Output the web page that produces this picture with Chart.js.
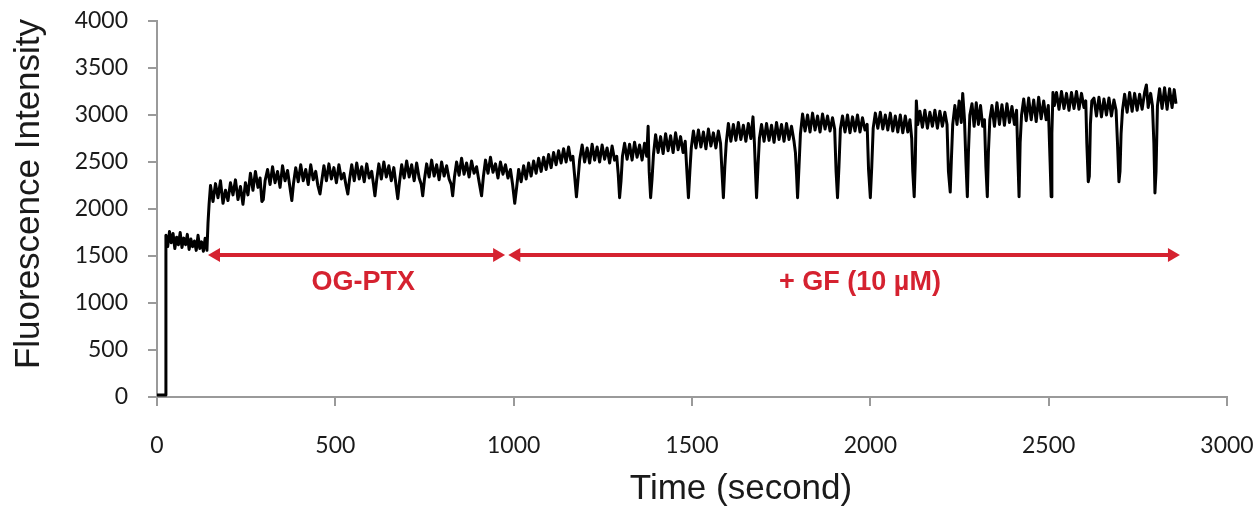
<!DOCTYPE html>
<html>
<head>
<meta charset="utf-8">
<script src="https://cdn.jsdelivr.net/npm/chart.js@4.4.1/dist/chart.umd.min.js"></script>
<style>
html,body{margin:0;padding:0;background:#fff;}
#wrap{width:1256px;height:506px;position:relative;}
</style>
</head>
<body>
<div id="wrap"><canvas id="c"></canvas></div>
<script>
// ---- data ----
const timeSec = [
0,8,16,23,
25,30,35,40,45,50,55,60,65,70,75,80,85,90,95,100,105,110,115,120,125,130,135,140,143,146,
150,157,164,171,178,185,192,199,206,213,220,227,234,241,248,
255,262,269,276,283,289,294,298,303,
310,317,324,331,338,345,352,359,366,372,378,383,389,396,403,410,417,424,431,438,445,451,457,462,
468,475,482,489,496,503,510,517,524,530,535,540,546,553,560,567,574,581,588,595,602,607,611,616,
622,629,636,643,650,657,664,670,675,680,686,693,700,707,714,721,728,735,741,745,750,
756,763,770,777,784,791,798,805,812,819,825,829,834,840,847,854,861,868,875,882,889,896,903,910,915,
921,928,935,942,949,956,963,970,977,984,991,997,1003,1008,
1014,1021,1028,1035,1042,1049,1056,1063,1070,1077,1084,1091,1098,1105,1112,1119,1126,1133,1140,1147,1154,1160,1166,1171,1176,1180,1185,
1192,1199,1206,1213,1220,1227,1234,1241,1248,1255,1262,1269,1276,1283,1289,1293,1297,1301,1305,
1311,1318,1325,1332,1339,1346,1353,1360,1367,1373,1377,1380,1384,1388,1392,
1398,1405,1412,1419,1426,1433,1440,1447,1454,1461,1468,1475,1481,1486,1490,1494,1498,
1504,1511,1518,1525,1532,1539,1546,1553,1560,1567,1574,1580,1584,1588,1592,1596,
1602,1609,1616,1623,1630,1637,1644,1651,1658,1665,1671,1675,1678,1681,1685,1689,
1695,1702,1709,1716,1723,1730,1737,1744,1751,1758,1765,1772,1779,1786,1790,1793,1796,1800,1804,
1810,1817,1824,1831,1838,1845,1852,1859,1866,1873,1880,1887,1894,1900,1904,1908,1912,1916,
1922,1929,1936,1943,1950,1957,1964,1971,1978,1985,1991,1995,2000,2004,2008,
2014,2021,2028,2035,2042,2049,2056,2063,2070,2077,2084,2091,2098,2105,2111,2116,2119,2123,2126,2129,2133,
2139,2146,2153,2160,2167,2174,2181,2188,2195,2202,2209,2215,2219,2224,2227,2231,
2237,2243,2249,2255,2259,2264,2268,2272,2275,2279,
2285,2291,2297,2303,2309,2315,2320,2324,2328,2331,2335,
2341,2348,2355,2362,2369,2376,2383,2390,2397,2404,2410,2414,2417,2420,2424,
2430,2437,2444,2451,2458,2465,2472,2479,2486,2493,2499,2504,2507,2509,2512,2516,
2522,2529,2536,2543,2550,2557,2564,2571,2578,2585,2592,2599,2604,2607,2611,2614,2617,2621,
2627,2634,2641,2648,2655,2662,2669,2676,2683,2689,2693,2697,2700,2703,2707,
2713,2720,2727,2734,2741,2748,2755,2762,2769,2774,2779,2786,2791,2795,2798,2801,2805,
2811,2818,2825,2832,2839,2846,2852,2857
];
const intensity = [
20,20,20,20,
1720,1600,1760,1640,1740,1580,1700,1620,1750,1590,1690,1620,1730,1570,1680,1600,1660,1560,1720,1580,1650,1550,1690,1560,1850,2050,
2250,2080,2270,2120,2300,2060,2200,2090,2280,2150,2310,2100,2240,2050,2280,
2150,2380,2200,2400,2230,2330,2080,2100,2300,
2420,2260,2450,2280,2400,2230,2460,2300,2410,2250,2090,2280,2440,2290,2470,2300,2420,2260,2470,2310,2400,2250,2160,2300,
2460,2300,2480,2320,2440,2280,2470,2320,2380,2250,2160,2320,2470,2300,2490,2320,2450,2290,2480,2330,2400,2260,2140,2310,
2480,2320,2500,2340,2460,2300,2440,2260,2110,2290,2470,2330,2510,2340,2470,2300,2490,2330,2260,2140,2320,
2480,2340,2520,2350,2470,2310,2500,2350,2460,2320,2260,2140,2340,2500,2360,2540,2370,2490,2340,2510,2380,2450,2290,2140,2340,
2520,2380,2550,2390,2480,2330,2500,2370,2470,2330,2420,2260,2060,2220,
2420,2290,2460,2320,2490,2350,2510,2380,2540,2400,2550,2420,2580,2440,2600,2470,2620,2490,2640,2500,2660,2520,2560,2350,2130,2300,2520,
2680,2500,2650,2490,2690,2520,2660,2500,2680,2530,2650,2490,2670,2520,2560,2380,2120,2300,2560,
2700,2530,2690,2520,2710,2550,2680,2520,2700,2560,2880,2400,2120,2320,2580,
2790,2600,2770,2590,2800,2620,2780,2600,2810,2630,2770,2600,2720,2380,2120,2400,2650,
2830,2650,2840,2660,2820,2640,2850,2670,2810,2650,2830,2700,2400,2120,2450,2700,
2910,2720,2900,2730,2920,2740,2890,2720,2910,2750,2980,2700,2400,2120,2450,2750,
2900,2720,2910,2730,2890,2710,2920,2740,2900,2720,2910,2740,2880,2720,2600,2380,2120,2450,2800,
3010,2830,3000,2820,3020,2840,2990,2820,3010,2850,2990,2830,2970,2850,2400,2120,2450,2850,
2990,2820,3000,2810,2980,2830,3000,2820,2970,2840,2900,2420,2120,2450,2860,
3020,2860,3030,2850,3000,2840,3020,2830,2990,2820,3000,2810,2990,2820,2950,2750,2400,2130,2500,3150,2900,
3040,2870,3050,2860,3030,2880,3050,2860,3040,2880,3030,2900,2400,2180,2500,2900,
3100,2900,3150,2920,3230,2950,2500,2130,2600,3000,
3120,2880,3130,2900,3100,2880,2950,2450,2130,2600,2950,
3100,2880,3130,2900,3110,2890,3120,2920,3090,2900,3050,2500,2130,2700,3000,
3170,2940,3180,2950,3160,2930,3190,2960,3150,2950,3100,2500,2130,2800,3240,3100,
3240,3060,3250,3070,3230,3050,3240,3070,3250,3060,3230,3080,3150,2700,2290,2350,2900,3150,
3180,2990,3190,2980,3170,3000,3180,2990,3160,3050,2700,2290,2400,2800,3050,
3220,3030,3240,3040,3230,3050,3220,3060,3240,3320,3080,3230,3100,2700,2170,2400,3100,
3280,3070,3290,3060,3280,3080,3270,3120
];
const xTicks = [0,500,1000,1500,2000,2500,3000];
const yTicks = [0,500,1000,1500,2000,2500,3000,3500,4000];
const arrowLevel = 1511;
const arrowStarts = [143, 985];
const arrowEnds = [976, 2868];
const phaseLabels = ['OG-PTX', '+ GF (10 µM)'];
const phaseLabelTimes = [578, 1971];
const phaseLabelLevel = 1213;
const xTitle = 'Time (second)';
const yTitle = 'Fluorescence Intensity';

const RED = '#d52230';
const AXIS = '#9a9a9a';
const TEXT = '#1a1a1a';

const points = timeSec.map((t, i) => ({x: t, y: intensity[i]}));

const annot = {
  id: 'annot',
  afterDatasetsDraw(chart) {
    const {ctx, scales: {x, y}} = chart;
    ctx.save();
    ctx.strokeStyle = RED;
    ctx.fillStyle = RED;
    ctx.lineWidth = 4;
    const yy = y.getPixelForValue(arrowLevel);
    const head = 12, hh = 7;
    for (let i = 0; i < arrowStarts.length; i++) {
      const x0 = x.getPixelForValue(arrowStarts[i]);
      const x1 = x.getPixelForValue(arrowEnds[i]);
      ctx.beginPath();
      ctx.moveTo(x0 + head - 2, yy);
      ctx.lineTo(x1 - head + 2, yy);
      ctx.stroke();
      ctx.beginPath();
      ctx.moveTo(x0, yy); ctx.lineTo(x0 + head, yy - hh); ctx.lineTo(x0 + head, yy + hh); ctx.closePath(); ctx.fill();
      ctx.beginPath();
      ctx.moveTo(x1, yy); ctx.lineTo(x1 - head, yy - hh); ctx.lineTo(x1 - head, yy + hh); ctx.closePath(); ctx.fill();
    }
    ctx.font = 'bold 27px "Liberation Sans", Arial, sans-serif';
    ctx.textAlign = 'center';
    ctx.textBaseline = 'middle';
    const ly = y.getPixelForValue(phaseLabelLevel);
    phaseLabels.forEach((txt, i) => {
      ctx.fillText(txt, x.getPixelForValue(phaseLabelTimes[i]), ly);
    });
    // axis titles, positioned as in the reference
    ctx.fillStyle = TEXT;
    ctx.font = '35px "Liberation Sans", Arial, sans-serif';
    ctx.fillText(xTitle, 741, 489);
    ctx.translate(29, 194);
    ctx.rotate(-Math.PI / 2);
    ctx.fillText(yTitle, 0, 0);
    ctx.restore();
  }
};

new Chart(document.getElementById('c'), {
  type: 'line',
  data: {
    datasets: [{
      label: yTitle,
      data: points,
      borderColor: '#000',
      borderWidth: 3,
      borderJoinStyle: 'round',
      pointRadius: 0,
      tension: 0,
      fill: false
    }]
  },
  options: {
    responsive: true,
    maintainAspectRatio: false,
    animation: false,
    layout: {padding: {top: 21, right: 29, left: 0, bottom: 0}},
    plugins: {legend: {display: false}, tooltip: {enabled: false}},
    scales: {
      x: {
        type: 'linear',
        min: 0, max: 3000,
        afterBuildTicks: (s) => { s.ticks = xTicks.map(v => ({value: v})); },
        afterFit: (s) => { s.height = 109; s.paddingLeft = 0; s.paddingRight = 0; },
        border: {color: AXIS, width: 2},
        grid: {drawOnChartArea: false, drawTicks: true, tickLength: 9, color: AXIS, lineWidth: 2},
        ticks: {padding: 26, color: TEXT, font: {family: 'Lato', size: 23}, maxRotation: 0,
                callback: (v) => String(v)},
        title: {display: false, text: xTitle}
      },
      y: {
        type: 'linear',
        min: 0, max: 4000,
        afterBuildTicks: (s) => { s.ticks = yTicks.map(v => ({value: v})); },
        afterFit: (s) => { s.width = 157; s.paddingTop = 0; s.paddingBottom = 0; },
        border: {color: AXIS, width: 2},
        grid: {drawOnChartArea: false, drawTicks: true, tickLength: 9, color: AXIS, lineWidth: 2},
        ticks: {padding: 20, color: TEXT, font: {family: 'Lato', size: 23},
                callback: (v) => String(v)},
        title: {display: false, text: yTitle}
      }
    }
  },
  plugins: [annot]
});
</script>
</body>
</html>
